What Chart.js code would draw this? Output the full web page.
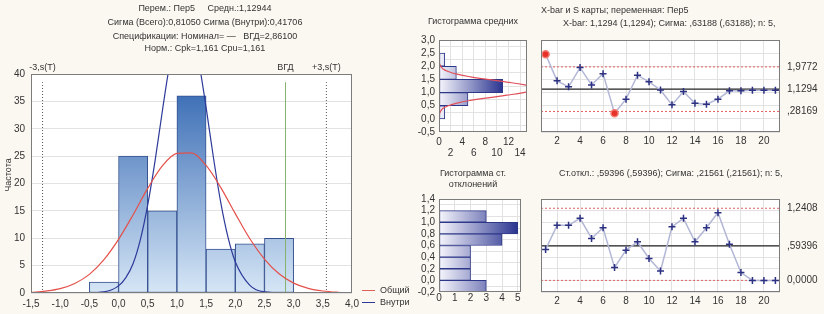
<!DOCTYPE html>
<html><head><meta charset="utf-8">
<script src="https://cdn.jsdelivr.net/npm/chart.js@4"></script>
<style>
body{margin:0;background:#fbf8f1;width:824px;height:314px;overflow:hidden;position:relative;font-family:"Liberation Sans",Arial,sans-serif;color:#333}
canvas{position:absolute}
.t{position:absolute;font-size:9px;line-height:12px;white-space:nowrap;color:#333;z-index:5}
.c{text-align:center}
.lg{position:absolute;width:13px;height:0;z-index:5}
</style>
</head><body>
<canvas id="cMain" width="390" height="314" style="left:0;top:0"></canvas>
<canvas id="cMeanH" width="140" height="160" style="left:390px;top:0"></canvas>
<canvas id="cXbar" width="294" height="160" style="left:530px;top:0"></canvas>
<canvas id="cSdH" width="140" height="154" style="left:390px;top:160px"></canvas>
<canvas id="cS" width="294" height="154" style="left:530px;top:160px"></canvas>

<div class="t c" style="left:0;width:410px;top:2px">Перем.: Пер5&nbsp;&nbsp;&nbsp;&nbsp; Средн.:1,12944</div>
<div class="t c" style="left:0;width:410px;top:16px">Сигма (Всего):0,81050 Сигма (Внутри):0,41706</div>
<div class="t c" style="left:0;width:410px;top:30px">Спецификации: Номинал= —&nbsp;&nbsp; ВГД=2,86100</div>
<div class="t c" style="left:0;width:410px;top:42px">Норм.: Cpk=1,161 Cpu=1,161</div>
<div class="t" style="left:-12px;top:169px;width:40px;text-align:center;transform:rotate(-90deg)">Частота</div>

<div class="lg" style="left:362px;top:290px;border-top:1px solid #e0605a"></div>
<div class="t" style="left:380px;top:284px">Общий</div>
<div class="lg" style="left:362px;top:302px;border-top:1px solid #2d3a9a"></div>
<div class="t" style="left:380px;top:296px">Внутри</div>

<div class="t c" style="left:420px;width:106px;top:15px">Гистограмма средних</div>
<div class="t c" style="left:420px;width:106px;top:167px">Гистограмма ст.</div>
<div class="t c" style="left:420px;width:106px;top:178px">отклонений</div>
<div class="t" style="left:541px;top:4px">X-bar и S карты; переменная: Пер5</div>
<div class="t" style="left:563px;top:17px">X-bar: 1,1294 (1,1294); Сигма: ,63188 (,63188); n: 5,</div>
<div class="t" style="left:559px;top:167px">Ст.откл.: ,59396 (,59396); Сигма: ,21561 (,21561); n: 5,</div>

<script>
// ---------- data ----------
const histBinCenters = [-0.25, 0.25, 0.75, 1.25, 1.75, 2.25, 2.75];
const histCounts     = [2, 25, 15, 36, 8, 9, 10];
const overallX = [-1.5,-1.25,-1,-0.75,-0.5,-0.25,0,0.25,0.5,0.75,1,1.25,1.5,1.75,2,2.25,2.5,2.75,3,3.25,3.5,3.75,4];
const overallY = [0.1,0.35,0.8,1.75,3.4,6.1,9.8,14.3,19.1,23.2,25.5,25.6,23.3,19.3,14.5,9.9,6.2,3.5,1.8,0.85,0.36,0.14,0.05];
const withinX = [-0.6,-0.25,0,0.125,0.25,0.375,0.5,0.625,0.75,0.875,1,1.125,1.25,1.375,1.5,1.625,1.75,1.875,2,2.25,2.5,2.9];
const withinY = [0,0.2,1.3,2.8,5.4,9.8,16.1,24.1,33.2,41.7,47.8,50.2,48.2,42.2,33.9,24.8,16.6,10.2,5.7,1.4,0.2,0];
const specValues = [-1.302, 2.861, 3.561];
const specLabels = ['-3,s(T)', 'ВГД', '+3,s(T)'];
const specLineTop = 38.5;

const subgroups = [1,2,3,4,5,6,7,8,9,10,11,12,13,14,15,16,17,18,19,20,21];
const xbarValues = [2.46,1.445,1.217,1.95,1.29,1.72,0.217,0.749,1.66,1.407,1.10,0.532,1.04,0.597,0.559,0.749,1.065,1.065,1.09,1.09,1.09];
const xbarLimits = [0.28169, 1.1294, 1.9772];
const xbarLimitLabels = [',28169', '1,1294', '1,9772'];
const sdValues = [0.532,0.947,0.947,1.068,0.722,0.905,0.220,0.520,0.663,0.376,0.161,0.923,1.068,0.663,0.905,1.165,0.623,0.134,0,0,0];
const sdLimits = [0, 0.59396, 1.2408];
const sdLimitLabels = ['0,0000', ',59396', '1,2408'];
const subgroupTicks = [2,4,6,8,10,12,14,16,18,20];

const meanBinCenters = [0.25, 0.75, 1.25, 1.75, 2.25];
const meanBinCounts  = [1, 5, 11, 3, 1];
const meanCurveLevels = [2.15,2.1,2.0,1.9,1.8,1.7,1.6,1.5,1.4,1.3,1.2,1.1,1.0,0.9,0.8,0.7,0.6,0.5,0.4,0.3,0.2,0.15];
const meanCurveCounts = [0,0.1,0.3,0.7,1.6,3.1,5.4,8.4,11.7,14.6,16.3,16.3,14.6,11.7,8.4,5.4,3.1,1.6,0.7,0.3,0.1,0];
const sdBinCenters = [-0.1, 0.1, 0.3, 0.5, 0.7, 0.9, 1.1];
const sdBinCounts  = [3, 2, 2, 2, 4, 5, 3];

// ---------- helpers ----------
Chart.defaults.font.family = '"Liberation Sans", Arial, sans-serif';
Chart.defaults.font.size = 10;
Chart.defaults.color = '#333';
const fmt = (v, d) => (Math.abs(v) < 1e-9 ? 0 : v).toFixed(d).replace('.', ',');
const fixW = w => s => { s.width = w; };
const fixH = h => s => { s.height = h; };
const setTicks = vals => s => { s.ticks = vals.map(v => ({value: v})); };
const GRID = '#e2e2e2';

Chart.register({
  id: 'plotFrame',
  beforeDraw(c) {
    const a = c.chartArea, x = c.ctx;
    x.save(); x.fillStyle = '#ffffff';
    x.fillRect(a.left, a.top, a.right - a.left, a.bottom - a.top); x.restore();
  },
  afterDraw(c) {
    const a = c.chartArea, x = c.ctx;
    x.save(); x.strokeStyle = '#7c7c7c'; x.lineWidth = 1;
    x.strokeRect(Math.round(a.left) + 0.5, Math.round(a.top) + 0.5, Math.round(a.right - a.left) - 1, Math.round(a.bottom - a.top) - 1);
    x.restore();
  }
});

const baseOpts = {
  responsive: false, animation: false, devicePixelRatio: 1,
  plugins: {legend: {display: false}, tooltip: {enabled: false}}
};

function vGradient(ctx) {
  const c = ctx.chart, a = c.chartArea;
  if (!a) return '#6f98cf';
  const g = c.ctx.createLinearGradient(0, a.top, 0, a.bottom);
  g.addColorStop(0, '#2f64b0'); g.addColorStop(1, '#d6e6f6');
  return g;
}
function hGradient(endValue) {
  return ctx => {
    const c = ctx.chart, a = c.chartArea;
    if (!a) return '#8a90c8';
    const g = c.ctx.createLinearGradient(a.left, 0, c.scales.x.getPixelForValue(endValue), 0);
    g.addColorStop(0, '#f6f6fc'); g.addColorStop(1, '#2a3490');
    return g;
  };
}
const pts = (xs, ys) => xs.map((x, i) => ({x, y: ys[i]}));

// ---------- main histogram ----------
const specDatasets = specValues.map((v, i) => ({
  type: 'line', data: [{x: v, y: 0}, {x: v, y: specLineTop}],
  borderColor: i === 1 ? '#86b36a' : '#555', borderDash: i === 1 ? [] : [1, 2],
  borderWidth: 1, pointRadius: 0, order: 1
}));
const mainChart = new Chart(document.getElementById('cMain'), {
  type: 'bar',
  data: {datasets: [
    {type: 'line', data: pts(overallX, overallY), borderColor: '#e4504a', borderWidth: 1.2, pointRadius: 0, cubicInterpolationMode: 'monotone', order: 0},
    {type: 'line', data: pts(withinX, withinY), borderColor: '#2d3a9a', borderWidth: 1.2, pointRadius: 0, cubicInterpolationMode: 'monotone', order: 0},
    ...specDatasets,
    {type: 'bar', data: pts(histBinCenters, histCounts), backgroundColor: vGradient, borderColor: '#34508f', borderWidth: 1, borderSkipped: false, barPercentage: 1, categoryPercentage: 1, order: 2}
  ]},
  options: {...baseOpts,
    layout: {padding: {left: 0, right: 38, top: 74, bottom: 0}},
    scales: {
      x: {type: 'linear', min: -1.5, max: 4, offset: false,
          ticks: {stepSize: 0.5, callback: v => fmt(v, 1), padding: 5, maxRotation: 0, autoSkip: false},
          grid: {display: false, drawTicks: false}, border: {display: false}, afterFit: fixH(21)},
      y: {min: 0, max: 40,
          ticks: {stepSize: 5, padding: 6, autoSkip: false},
          grid: {color: GRID, drawTicks: false}, border: {display: false}, afterFit: fixW(31)}
    }
  }
});
specLabels.forEach((t, i) => {
  const d = document.createElement('div');
  d.className = 't c';
  d.textContent = t;
  const px = mainChart.scales.x.getPixelForValue(specValues[i]);
  d.style.left = (px - 25) + 'px'; d.style.width = '50px'; d.style.top = '61px';
  document.body.appendChild(d);
});

// ---------- histogram of means ----------
new Chart(document.getElementById('cMeanH'), {
  type: 'bar',
  data: {datasets: [
    {type: 'line', data: pts(meanCurveCounts, meanCurveLevels), borderColor: '#e0505a', borderWidth: 1.2, pointRadius: 0, tension: 0.4, order: 0},
    {type: 'bar', indexAxis: 'y', data: pts(meanBinCounts, meanBinCenters), backgroundColor: hGradient(11), borderColor: '#2e3888', borderWidth: 1, borderSkipped: false, barPercentage: 1, categoryPercentage: 1, order: 1}
  ]},
  options: {...baseOpts, indexAxis: 'y',
    layout: {padding: {left: 0, right: 3, top: 40, bottom: 0}},
    scales: {
      x: {type: 'linear', min: 0, max: 15.2, offset: false, afterBuildTicks: setTicks([0,2,4,6,8,10,12,14]),
          ticks: {callback: (v, i) => i % 2 === 0 ? [String(v), ''] : ['', String(v)], padding: 4, maxRotation: 0, autoSkip: false, font: {lineHeight: 1.15}},
          grid: {color: GRID, drawTicks: false}, border: {display: false}, afterFit: fixH(28)},
      y: {type: 'linear', min: -0.5, max: 3, offset: false,
          ticks: {stepSize: 0.5, callback: v => fmt(v, 1), padding: 4, autoSkip: false},
          grid: {color: GRID, drawTicks: false}, border: {display: false}, afterFit: fixW(49)}
    }
  }
});

// ---------- control charts ----------
function controlChart(id, values, limits, labels, yMin, yMax, yStep, topPad, xAxisH, xPad) {
  const out = v => v > limits[2] + 1e-9 || v < limits[0] - 1e-9;
  const limitDs = limits.map((v, i) => ({
    data: [{x: 0.6, y: v}, {x: 21.4, y: v}],
    borderColor: i === 1 ? '#222' : '#e26060', borderDash: i === 1 ? [] : [2, 2],
    borderWidth: i === 1 ? 1.2 : 1, pointRadius: 0, order: 1
  }));
  return new Chart(document.getElementById(id), {
    type: 'line',
    data: {datasets: [
      {data: pts(subgroups, values), borderColor: '#b3b7d6', borderWidth: 1.5, order: 0,
       pointStyle: c => out(values[c.dataIndex]) ? 'circle' : 'cross',
       pointRadius: 3.5,
       pointBorderColor: c => out(values[c.dataIndex]) ? '#f07a70' : '#2d3182',
       pointBackgroundColor: c => out(values[c.dataIndex]) ? '#e8302a' : '#2d3182',
       pointBorderWidth: 1.5},
      ...limitDs
    ]},
    options: {...baseOpts,
      layout: {padding: {left: 0, right: 0, top: topPad, bottom: 0}},
      scales: {
        x: {type: 'linear', min: 0.6, max: 21.4, afterBuildTicks: setTicks(subgroupTicks),
            ticks: {padding: xPad, maxRotation: 0, autoSkip: false},
            grid: {color: GRID, drawTicks: false}, border: {display: false}, afterFit: fixH(xAxisH)},
        y: {position: 'left', min: yMin, max: yMax, ticks: {display: false, stepSize: yStep, autoSkip: false},
            grid: {color: GRID, drawTicks: false}, border: {display: false}, afterFit: fixW(11)},
        y2: {position: 'right', min: yMin, max: yMax, afterBuildTicks: setTicks(limits),
             ticks: {callback: (v, i) => labels[i], padding: 7, autoSkip: false},
             grid: {display: false, drawTicks: false}, border: {display: false}, afterFit: fixW(44)}
      }
    }
  });
}
controlChart('cXbar', xbarValues, xbarLimits, xbarLimitLabels, -0.5, 3, 0.5, 40, 28, 3);

// ---------- histogram of standard deviations ----------
new Chart(document.getElementById('cSdH'), {
  type: 'bar',
  data: {datasets: [
    {indexAxis: 'y', data: pts(sdBinCounts, sdBinCenters), backgroundColor: hGradient(5), borderColor: '#2e3888', borderWidth: 1, borderSkipped: false, barPercentage: 1, categoryPercentage: 1}
  ]},
  options: {...baseOpts, indexAxis: 'y',
    layout: {padding: {left: 0, right: 9, top: 39, bottom: 0}},
    scales: {
      x: {type: 'linear', min: 0, max: 5.2, offset: false, afterBuildTicks: setTicks([0,1,2,3,4,5]),
          ticks: {padding: 0, maxRotation: 0, autoSkip: false},
          grid: {color: GRID, drawTicks: false}, border: {display: false}, afterFit: fixH(22)},
      y: {type: 'linear', min: -0.2, max: 1.4, offset: false,
          ticks: {stepSize: 0.2, callback: v => fmt(v, 1), padding: 4, autoSkip: false},
          grid: {color: GRID, drawTicks: false}, border: {display: false}, afterFit: fixW(49)}
    }
  }
});

controlChart('cS', sdValues, sdLimits, sdLimitLabels, -0.2, 1.4, 0.2, 39, 22, 3);
</script>
</body></html>
